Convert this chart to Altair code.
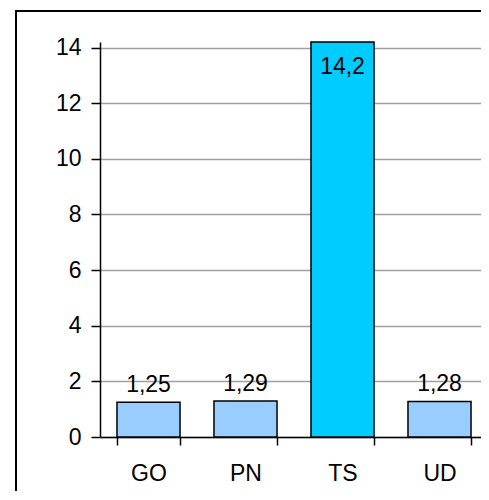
import altair as alt
import pandas as pd

categories = ["GO", "PN", "TS", "UD"]
values = [1.25, 1.29, 14.2, 1.28]
value_labels = ["1,25", "1,29", "14,2", "1,28"]
bar_colors = ["#99CCFF", "#99CCFF", "#00CCFF", "#99CCFF"]
label_inside = [False, False, True, False]
y_ticks = [0, 2, 4, 6, 8, 10, 12, 14]
title_text = "(valori medi)"

df = pd.DataFrame({
    "cat": categories,
    "val": values,
    "lab": value_labels,
    "col": bar_colors,
    "inside": label_inside,
})

FONT = "Liberation Sans"
FS = 23
W, H = 388, 395

x_enc = alt.X(
    "cat:N",
    sort=categories,
    scale=alt.Scale(paddingInner=0.35, paddingOuter=0.175),
    axis=alt.Axis(
        title=None, labelAngle=0, tickBand="extent", labelFont=FONT,
        labelFontSize=FS, labelColor="black", labelPadding=17,
        domainColor="black", domainWidth=1.5, tickColor="black",
        tickWidth=1.5, tickSize=8, grid=False,
    ),
)
y_enc = alt.Y(
    "val:Q",
    scale=alt.Scale(domain=[0, 14.2], nice=False, zero=True),
    axis=alt.Axis(
        title=None, values=y_ticks, labelFont=FONT, labelFontSize=FS,
        labelColor="black", labelPadding=10, domainColor="black",
        domainWidth=1.5, tickColor="black", tickWidth=1.5, tickSize=9,
        grid=True, gridColor="#A0A0A0", gridWidth=1.5,
    ),
)

base = alt.Chart(df)

bars = base.mark_bar(stroke="black", strokeWidth=1.5).encode(
    x=x_enc, y=y_enc, color=alt.Color("col:N", scale=None)
)

labels_out = base.transform_filter("!datum.inside").mark_text(
    baseline="alphabetic", dy=-10, font=FONT, fontSize=FS, color="black"
).encode(x=alt.X("cat:N", sort=categories), y="val:Q", text="lab:N")

labels_in = base.transform_filter("datum.inside").mark_text(
    baseline="top", dy=14, font=FONT, fontSize=FS, color="black"
).encode(x=alt.X("cat:N", sort=categories), y="val:Q", text="lab:N")

frame = pd.DataFrame({"b": [0]})
border_top = alt.Chart(frame).mark_rule(color="black", strokeWidth=2).encode(
    x=alt.value(-84), x2=alt.value(389), y=alt.value(-31)
)
border_left = alt.Chart(frame).mark_rule(color="black", strokeWidth=2).encode(
    x=alt.value(-84), y=alt.value(-32), y2=alt.value(460)
)

chart = alt.layer(border_top, border_left, bars, labels_out, labels_in).properties(
    width=W,
    height=H,
    title=alt.Title(
        title_text, font=FONT, fontSize=27, fontStyle="italic",
        fontWeight="normal", color="black", anchor="middle", dx=-42,
        baseline="alphabetic", offset=4,
    ),
    autosize=alt.AutoSizeParams(type="none"),
    padding={"left": 92, "top": 34, "right": -7, "bottom": 54},
).configure_view(stroke="transparent", strokeWidth=0)

chart.save("out.html", embed_options={"renderer": "svg", "actions": False})
